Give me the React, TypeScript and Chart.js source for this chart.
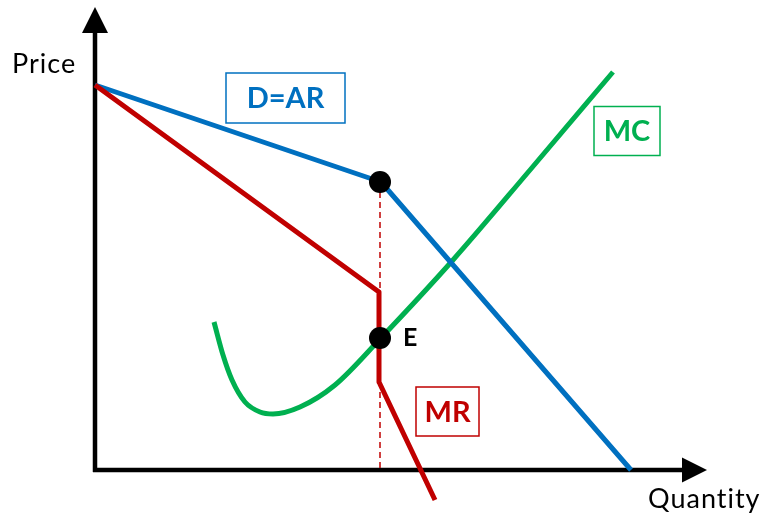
import React, { useEffect, useRef } from "react";
import { Chart, registerables } from "chart.js";

Chart.register(...registerables);

// Demand (average revenue) curve with a kink at the prevailing price
const demandQ = [0, 286, 536];
const demandP = [385, 288, 0];

// Marginal revenue: falls, drops vertically at the kink (the gap), then falls again
const mrQ = [0, 284, 284, 340];
const mrP = [385, 178, 88, -30];

// Marginal cost, U-shaped
const mcQ = [119, 128, 137, 150, 165, 178, 205, 240, 285, 358, 435, 518];
const mcP = [148, 115, 90, 68, 58, 56, 63, 85, 131, 210, 300, 398];

// Kink point on D and equilibrium E on MC = MR
const keyQ = [285, 285];
const keyP = [288, 132];

// Dashed guide from the kink down to the quantity axis
const guideQ = [285, 285];
const guideP = [288, 0];

const BLUE = "#0070C0";
const RED = "#C00000";
const GREEN = "#00B050";

const zip = (xs: number[], ys: number[]) => xs.map((x, i) => ({ x, y: ys[i] }));

type BoxLabel = { text: string; q: number; p: number; w: number; h: number; color: string };
const boxLabels: BoxLabel[] = [
  { text: "D=AR", q: 190.5, p: 372, w: 119, h: 50, color: BLUE },
  { text: "MC", q: 532, p: 339, w: 66, h: 49, color: GREEN },
  { text: "MR", q: 352.5, p: 58.5, w: 63, h: 49, color: RED },
];

const axesPlugin = {
  id: "econAxes",
  beforeDatasetsDraw(chart: any) {
    const { ctx, scales } = chart;
    const X = (v: number) => scales.x.getPixelForValue(v);
    const Y = (v: number) => scales.y.getPixelForValue(v);
    ctx.save();
    ctx.strokeStyle = "#000";
    ctx.fillStyle = "#000";
    ctx.lineWidth = 4.5;
    ctx.lineCap = "butt";
    ctx.beginPath();
    ctx.moveTo(X(0), Y(-2));
    ctx.lineTo(X(0), Y(440));
    ctx.stroke();
    ctx.beginPath();
    ctx.moveTo(X(-2), Y(0));
    ctx.lineTo(X(590), Y(0));
    ctx.stroke();
    ctx.beginPath();
    ctx.moveTo(X(0), Y(463));
    ctx.lineTo(X(-13), Y(437));
    ctx.lineTo(X(13), Y(437));
    ctx.closePath();
    ctx.fill();
    ctx.beginPath();
    ctx.moveTo(X(612), Y(0));
    ctx.lineTo(X(587), Y(12.5));
    ctx.lineTo(X(587), Y(-12.5));
    ctx.closePath();
    ctx.fill();
    ctx.restore();
  },
  afterDatasetsDraw(chart: any) {
    const { ctx, scales } = chart;
    const X = (v: number) => scales.x.getPixelForValue(v);
    const Y = (v: number) => scales.y.getPixelForValue(v);
    ctx.save();

    // axis titles
    ctx.fillStyle = "#000";
    ctx.font = "27px Lato";
    ctx.textAlign = "left";
    ctx.textBaseline = "alphabetic";
    (ctx as any).letterSpacing = "1px";
    ctx.fillText("Price", X(-83), Y(397));
    ctx.fillText("Quantity", X(553), Y(-38));
    (ctx as any).letterSpacing = "0px";

    // curve labels in boxes
    ctx.lineWidth = 1.5;
    ctx.font = "bold 29px Lato";
    ctx.textAlign = "center";
    ctx.textBaseline = "middle";
    for (const b of boxLabels) {
      const cx = X(b.q);
      const cy = Y(b.p);
      ctx.strokeStyle = b.color;
      ctx.fillStyle = "#fff";
      ctx.fillRect(cx - b.w / 2, cy - b.h / 2, b.w, b.h);
      ctx.strokeRect(cx - b.w / 2, cy - b.h / 2, b.w, b.h);
      ctx.fillStyle = b.color;
      ctx.fillText(b.text, cx, cy + 1);
    }

    ctx.fillStyle = "#000";
    ctx.font = "bold 25px Lato";
    ctx.textAlign = "left";
    ctx.fillText("E", X(308), Y(132));
    ctx.restore();
  },
};

export default function App() {
  const ref = useRef<HTMLCanvasElement | null>(null);

  useEffect(() => {
    if (!ref.current) return;
    const chart = new Chart(ref.current, {
      type: "line",
      data: {
        // earlier datasets are painted on top
        datasets: [
          {
            label: "Points",
            data: zip(keyQ, keyP),
            showLine: false,
            pointRadius: 11,
            pointHoverRadius: 11,
            pointBackgroundColor: "#000",
            pointBorderColor: "#000",
            pointBorderWidth: 0,
          },
          {
            label: "MR",
            data: zip(mrQ, mrP),
            borderColor: RED,
            borderWidth: 5,
            borderJoinStyle: "round",
            pointRadius: 0,
          },
          {
            label: "D=AR",
            data: zip(demandQ, demandP),
            borderColor: BLUE,
            borderWidth: 5,
            borderJoinStyle: "round",
            pointRadius: 0,
          },
          {
            label: "MC",
            data: zip(mcQ, mcP),
            borderColor: GREEN,
            borderWidth: 5,
            cubicInterpolationMode: "monotone",
            pointRadius: 0,
          },
          {
            label: "Dashed",
            data: zip(guideQ, guideP),
            borderColor: RED,
            borderWidth: 1.5,
            borderDash: [6, 4],
            pointRadius: 0,
          },
        ],
      },
      options: {
        animation: false,
        responsive: true,
        maintainAspectRatio: false,
        layout: { padding: 0, autoPadding: false },
        plugins: { legend: { display: false }, tooltip: { enabled: false } },
        scales: {
          x: { type: "linear", min: -95, max: 667, display: false },
          y: { type: "linear", min: -47, max: 470, display: false },
        },
      },
      plugins: [axesPlugin],
    });
    return () => chart.destroy();
  }, []);

  return (
    <div style={{ position: "fixed", left: 0, top: 0, width: 762, height: 517, background: "#fff" }}>
      <canvas ref={ref} />
    </div>
  );
}
